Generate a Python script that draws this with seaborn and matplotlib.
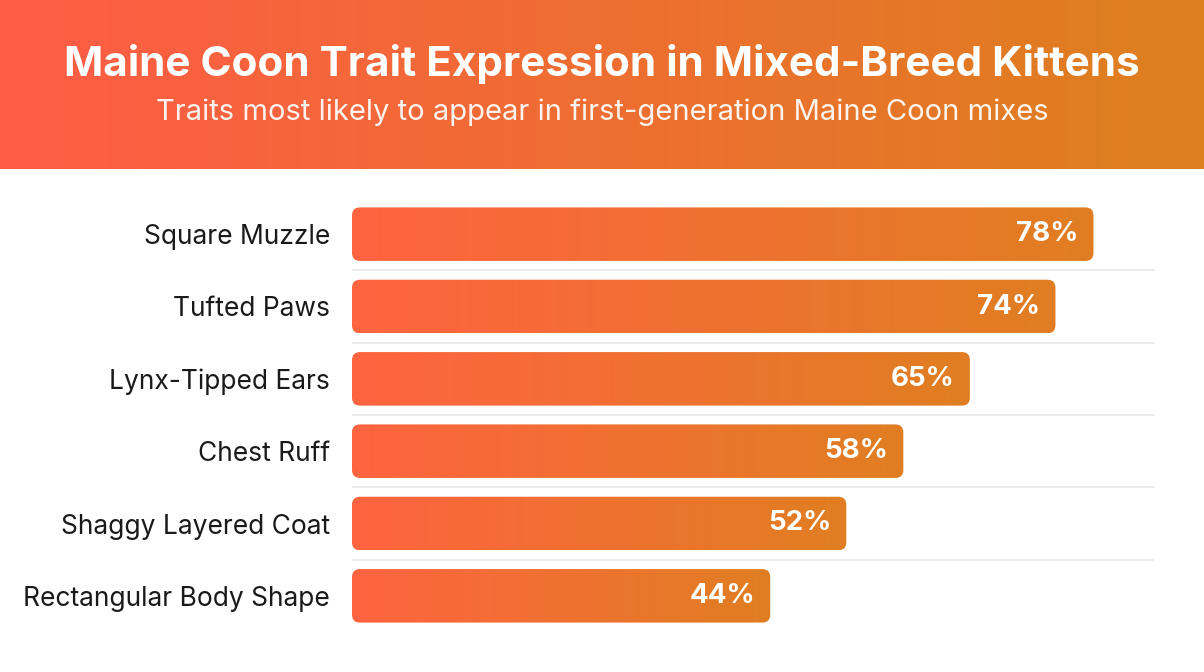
import numpy as np
import pandas as pd
import matplotlib
matplotlib.use("Agg")
import matplotlib.pyplot as plt
import seaborn as sns
from matplotlib.patches import FancyBboxPatch
from matplotlib.colors import LinearSegmentedColormap

traits = ["Square Muzzle", "Tufted Paws", "Lynx-Tipped Ears", "Chest Ruff",
          "Shaggy Layered Coat", "Rectangular Body Shape"]
percent = [78, 74, 65, 58, 52, 44]
title = "Maine Coon Trait Expression in Mixed-Breed Kittens"
subtitle = "Traits most likely to appear in first-generation Maine Coon mixes"

sns.set_theme(style="white")
plt.rcParams['font.family'] = ['Inter', 'DejaVu Sans']

W, H = 1204, 672
fig = plt.figure(figsize=(W / 100, H / 100), dpi=100)
fig.patch.set_facecolor("white")

# header band with gradient
head_h = 169 / H
hax = fig.add_axes([0, 1 - head_h, 1, head_h])
grad = np.linspace(0, 1, 256).reshape(1, -1)
cmap_h = LinearSegmentedColormap.from_list("h", ["#FF5C46", "#DD801E"])
hax.imshow(grad, aspect='auto', cmap=cmap_h, extent=[0, 1, 0, 1])
hax.axis('off')
fig.text(0.5, 1 - 64 / H, title, ha='center', va='center', color='white',
         fontsize=30.4, fontweight='bold')
fig.text(0.5, 1 - 112 / H, subtitle, ha='center', va='center',
         color=(1, 1, 1, 0.92), fontsize=21)

# bar axes
left_px, right_px = 352, 1155
top_px, bot_px = 198, 632
ax = fig.add_axes([left_px / W, 1 - bot_px / H, (right_px - left_px) / W,
                   (bot_px - top_px) / H])
df = pd.DataFrame({"trait": traits, "pct": percent})
sns.barplot(data=df, x="pct", y="trait", ax=ax, width=0.74, color="#F26B3A",
            orient="h")
xmax = max(percent) * 1.083
ax.set_xlim(0, xmax)
ax.set_ylim(len(traits) - 0.5, -0.5)

ax_w_px = right_px - left_px
ax_h_px = bot_px - top_px
x_per_px = xmax / ax_w_px
y_per_px = len(traits) / ax_h_px
radius_px = 8
cmap_b = LinearSegmentedColormap.from_list("b", ["#FF6440", "#E07E22"])

for p in list(ax.patches):
    x, y, w, h = p.get_x(), p.get_y(), p.get_width(), p.get_height()
    p.set_visible(False)
    fb = FancyBboxPatch((x, y), w, h,
                        boxstyle=f"round,pad=0,rounding_size={radius_px * x_per_px}",
                        mutation_aspect=y_per_px / x_per_px,
                        facecolor='none', edgecolor='none', zorder=2)
    ax.add_patch(fb)
    im = ax.imshow(grad, aspect='auto', cmap=cmap_b,
                   extent=[x, x + w, y + h, y], zorder=2)
    im.set_clip_path(fb)

ax.set_xlim(0, xmax)
ax.set_ylim(len(traits) - 0.5, -0.5)
ax.set_aspect('auto')

for i in range(len(traits) - 1):
    ax.axhline(i + 0.5, color='#E6E6E6', lw=1.1, zorder=1)

for i, v in enumerate(percent):
    ax.text(v - 15 * x_per_px, i, f"{v}%", ha='right', va='center',
            color='white', fontsize=20, fontweight='bold', zorder=3)

ax.set_xlabel("")
ax.set_ylabel("")
ax.set_xticks([])
ax.tick_params(axis='y', length=0, pad=16, labelsize=19, labelcolor='#1a1a1a')
for s in ax.spines.values():
    s.set_visible(False)
ax.set_facecolor('none')

fig.savefig("out.png", dpi=100, facecolor="white")
